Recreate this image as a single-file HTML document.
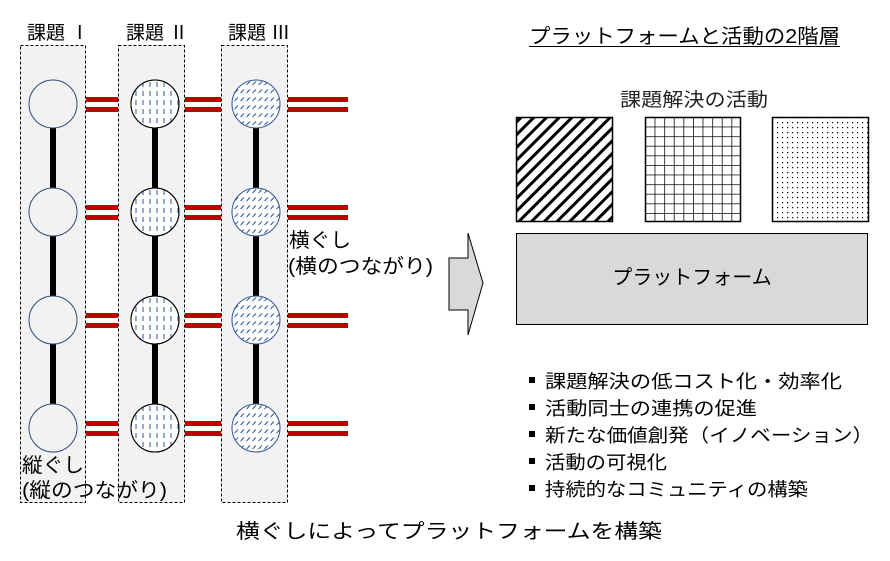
<!DOCTYPE html>
<html><head><meta charset="utf-8"><style>
html,body{margin:0;padding:0;background:#fff;}
svg{display:block;font-family:"Liberation Sans","Noto Sans CJK JP",sans-serif;}
</style></head><body>
<svg width="890" height="561" viewBox="0 0 890 561" xmlns="http://www.w3.org/2000/svg">
<defs>
<pattern id="vd" width="7" height="9" patternUnits="userSpaceOnUse"><line x1="3" y1="1" x2="3" y2="6" stroke="#2f5597" stroke-width="1"/></pattern>
<pattern id="dd" width="6" height="8" patternUnits="userSpaceOnUse"><line x1="0.5" y1="5" x2="4" y2="1.5" stroke="#2f5597" stroke-width="1"/></pattern>
<pattern id="diag" width="9" height="9" patternUnits="userSpaceOnUse" patternTransform="rotate(45)"><rect x="0" y="0" width="3" height="9" fill="#000"/></pattern>
<pattern id="grid" width="9.6" height="9.6" patternUnits="userSpaceOnUse" x="645" y="117"><path d="M0 0H9.6M0 0V9.6" stroke="#000" stroke-width="1.5" fill="none"/></pattern>
<pattern id="dots" width="5" height="5" patternUnits="userSpaceOnUse"><rect x="2" y="2" width="1.2" height="1.2" fill="#000"/></pattern>
</defs>

<g fill="#f2f2f2" stroke="#000" stroke-width="1" stroke-dasharray="3,2">
<rect x="20.5" y="45.5" width="65" height="457"/>
<rect x="118.5" y="45.5" width="66" height="457"/>
<rect x="221.5" y="45.5" width="66" height="457"/>
</g>
<g font-size="19" fill="#000">
<text x="27" y="39">課題 Ⅰ</text>
<text x="126" y="39">課題 Ⅱ</text>
<text x="228" y="39">課題 Ⅲ</text>
</g>

<g stroke="#000" stroke-width="6">
<line x1="53" y1="104" x2="53" y2="428"/>
<line x1="155" y1="104" x2="155" y2="428"/>
<line x1="256" y1="104" x2="256" y2="428"/>
</g>

<g fill="#c00000">
<g id="rr">
<rect x="86" y="97" width="32" height="5"/><rect x="86" y="107" width="32" height="5"/>
<rect x="185" y="97" width="36" height="5"/><rect x="185" y="107" width="36" height="5"/>
<rect x="288" y="97" width="60" height="5"/><rect x="288" y="107" width="60" height="5"/>
</g>
<use href="#rr" y="108"/>
<use href="#rr" y="216"/>
<use href="#rr" y="324"/>
</g>

<g id="cc">
<circle cx="53" cy="104" r="24" fill="#f2f2f2" stroke="#2f4a7a" stroke-width="1"/>
<circle cx="155" cy="104" r="24" fill="#fff" stroke="#000" stroke-width="1"/>
<circle cx="155" cy="104" r="24" fill="url(#vd)" stroke="#000" stroke-width="1"/>
<circle cx="256" cy="104" r="24" fill="#fff"/>
<circle cx="256" cy="104" r="24" fill="url(#dd)" stroke="#2f5597" stroke-width="1"/>
</g>
<use href="#cc" y="108"/>
<use href="#cc" y="216"/>
<use href="#cc" y="324"/>

<g font-size="20" fill="#000">
<text x="289" y="247" textLength="62" lengthAdjust="spacingAndGlyphs">横ぐし</text>
<text x="288" y="273" textLength="145" lengthAdjust="spacingAndGlyphs">(横のつながり)</text>
<text x="22" y="472" textLength="62" lengthAdjust="spacingAndGlyphs">縦ぐし</text>
<text x="22" y="497" textLength="145" lengthAdjust="spacingAndGlyphs">(縦のつながり)</text>
</g>

<polygon points="449,258 468,258 468,233 483,283 468,335 468,310 449,310" fill="#d9d9d9" stroke="#000" stroke-width="1"/>

<text x="529" y="43" font-size="20" textLength="311" lengthAdjust="spacingAndGlyphs">プラットフォームと活動の2階層</text>
<line x1="529" y1="46.5" x2="840" y2="46.5" stroke="#000" stroke-width="1"/>
<text x="620" y="106" font-size="19" textLength="148" lengthAdjust="spacingAndGlyphs" fill="#222">課題解決の活動</text>

<rect x="516.5" y="117.5" width="96" height="104" fill="#fff" stroke="#000"/>
<rect x="516.5" y="117.5" width="96" height="104" fill="url(#diag)" stroke="#000" stroke-width="1.5"/>
<rect x="645.5" y="117.5" width="95" height="104" fill="url(#grid)" stroke="#000" stroke-width="1.5"/>
<rect x="772.5" y="117.5" width="96" height="104" fill="url(#dots)" stroke="#000" stroke-width="1.5"/>

<rect x="516.5" y="233.5" width="351" height="91" fill="#d9d9d9" stroke="#000" stroke-width="1"/>
<text x="692" y="284" font-size="20" text-anchor="middle">プラットフォーム</text>

<g font-size="18.5" fill="#000">
<rect x="529" y="377" width="6" height="6"/>
<text x="545" y="388" textLength="297" lengthAdjust="spacingAndGlyphs">課題解決の低コスト化・効率化</text>
<rect x="529" y="404" width="6" height="6"/>
<text x="545" y="415" textLength="212" lengthAdjust="spacingAndGlyphs">活動同士の連携の促進</text>
<rect x="529" y="431" width="6" height="6"/>
<text x="545" y="442" textLength="328" lengthAdjust="spacingAndGlyphs">新たな価値創発（イノベーション）</text>
<rect x="529" y="458" width="6" height="6"/>
<text x="545" y="469" textLength="122" lengthAdjust="spacingAndGlyphs">活動の可視化</text>
<rect x="529" y="485" width="6" height="6"/>
<text x="545" y="496" textLength="263" lengthAdjust="spacingAndGlyphs">持続的なコミュニティの構築</text>
</g>

<text x="236" y="538" font-size="20" textLength="426" lengthAdjust="spacingAndGlyphs">横ぐしによってプラットフォームを構築</text>
</svg>
</body></html>
